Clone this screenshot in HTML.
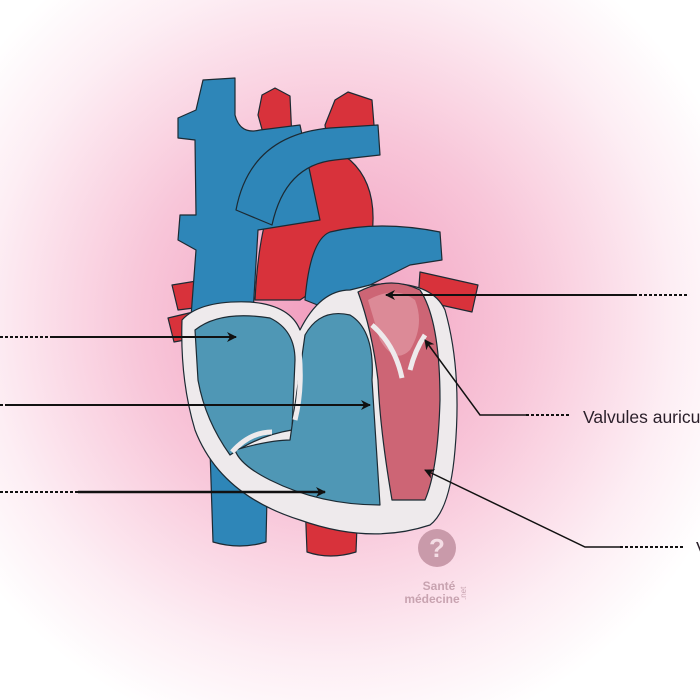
<!DOCTYPE html>
<html><head><meta charset="utf-8"><style>
html,body{margin:0;padding:0;width:700px;height:700px;overflow:hidden;background:#fff}
</style></head><body>
<svg width="700" height="700" viewBox="0 0 700 700" xmlns="http://www.w3.org/2000/svg">
<defs>
<radialGradient id="bg" cx="330" cy="320" r="430" gradientUnits="userSpaceOnUse">
<stop offset="0" stop-color="#f19cbd"/>
<stop offset="0.45" stop-color="#f8c6d9"/>
<stop offset="0.8" stop-color="#fdeef4"/>
<stop offset="1" stop-color="#ffffff"/>
</radialGradient>
<marker id="ah" markerWidth="10" markerHeight="10" refX="9" refY="5" orient="auto" markerUnits="userSpaceOnUse">
<path d="M0,0 L10,5 L0,10 L3,5 Z" fill="#111"/>
</marker>
</defs>
<rect width="700" height="700" fill="url(#bg)"/>
<g stroke="#1c2a33" stroke-width="1.2" stroke-linejoin="round">
<path d="M210,450 L268,450 L266,542 Q240,550 213,542 Z" fill="#2e86b8"/>
<path d="M305,500 L358,500 L356,552 Q330,560 307,552 Z" fill="#d8323b"/>
<path d="M172,285 L215,278 L218,305 L178,310 Z" fill="#d8323b"/>
<path d="M168,318 L210,308 L212,335 L174,342 Z" fill="#d8323b"/>
<path d="M420,272 L478,285 L472,312 L418,300 Z" fill="#d8323b"/>
<path d="M258,115 L262,95 L275,88 L290,96 L292,140 L265,140 Z" fill="#d8323b"/>
<path d="M325,125 L335,100 L348,92 L372,100 L376,150 L330,160 Z" fill="#d8323b"/>
<path d="M255,300 Q260,200 290,170 Q320,140 350,160 Q378,185 372,235 L345,270 L300,300 Z" fill="#d8323b"/>
<path d="M203,80 L235,78 L235,115 Q240,135 260,130 L300,125 L320,220 L258,230 L252,330 L190,330 L196,250 L178,240 L180,215 L196,215 L195,140 L178,138 L178,118 L196,110 Z" fill="#2e86b8"/>
<path d="M236,210 Q250,135 330,128 L378,125 L380,155 L335,160 Q285,165 272,225 Z" fill="#2e86b8"/>
<path d="M305,300 Q310,240 330,232 Q380,220 440,232 L442,260 L410,265 L360,290 L330,310 Z" fill="#2e86b8"/>
<path d="M182,320 Q200,300 250,302 Q290,305 300,330 Q320,290 350,290 L370,285 Q430,278 445,310 Q462,370 455,450 Q450,510 430,525 Q370,545 300,520 Q220,495 195,430 Q180,380 182,320 Z" fill="#eeeaec"/>
<path d="M195,330 Q220,310 270,318 Q295,330 295,360 L292,430 Q260,435 230,455 Q205,420 198,380 Z" fill="#4f97b5"/>
<path d="M305,335 Q320,308 350,315 Q375,330 372,380 L380,505 Q320,505 270,480 Q240,465 235,450 Q270,440 290,440 Z" fill="#4f97b5"/>
<path d="M358,292 Q390,275 420,290 Q440,320 440,400 Q438,470 425,500 L392,500 Q380,430 378,380 Q372,330 358,292 Z" fill="#cd6575"/>
<path d="M368,300 Q395,285 415,300 Q425,325 410,350 Q395,365 380,340 Z" fill="#dc8a97" stroke="none"/>
</g>
<path d="M296,330 Q305,380 295,420" stroke="#eeeaec" stroke-width="5" fill="none"/>
<path d="M232,452 Q250,432 272,432" stroke="#eeeaec" stroke-width="5" fill="none"/>
<path d="M372,325 Q395,345 402,378" stroke="#eeeaec" stroke-width="5" fill="none"/>
<path d="M425,335 Q415,350 410,370" stroke="#eeeaec" stroke-width="5" fill="none"/>
<g stroke="#111" stroke-width="2" fill="none">
<line x1="50" y1="337" x2="236" y2="337" marker-end="url(#ah)"/>
<line x1="0" y1="337" x2="50" y2="337" stroke-dasharray="3,2"/>
<line x1="8" y1="405" x2="370" y2="405" marker-end="url(#ah)"/>
<line x1="0" y1="405" x2="8" y2="405" stroke-dasharray="3,2"/>
<line x1="78" y1="492" x2="325" y2="492" stroke-width="2.5" marker-end="url(#ah)"/>
<line x1="0" y1="492" x2="78" y2="492" stroke-dasharray="3,2"/>
<line x1="634" y1="295" x2="386" y2="295" marker-end="url(#ah)"/>
<line x1="634" y1="295" x2="688" y2="295" stroke-dasharray="3,2"/>
<polyline points="526,415 480,415 425,340" stroke-width="1.5" marker-end="url(#ah)"/>
<line x1="526" y1="415" x2="570" y2="415" stroke-dasharray="3,2"/>
<polyline points="620,547 585,547 425,470" stroke-width="1.5" marker-end="url(#ah)"/>
<line x1="620" y1="547" x2="684" y2="547" stroke-dasharray="3,2"/>
</g>
<text x="583" y="423" font-family="Liberation Sans, sans-serif" font-size="17.5" fill="#2a1f2a">Valvules auriculo</text>
<text x="696" y="554" font-family="Liberation Sans, sans-serif" font-size="17.5" fill="#2a1f2a">V</text>
<circle cx="437" cy="548" r="19" fill="#c99aaa"/>
<text x="437" y="557" text-anchor="middle" font-family="Liberation Sans, sans-serif" font-weight="bold" font-size="26" fill="#f4dde5">?</text>
<text x="439" y="590" text-anchor="middle" font-family="Liberation Sans, sans-serif" font-weight="bold" font-size="12" fill="#c8a3b0">Santé</text>
<text x="432" y="603" text-anchor="middle" font-family="Liberation Sans, sans-serif" font-weight="bold" font-size="12" fill="#c8a3b0">médecine</text>
<text x="466" y="600" font-family="Liberation Sans, sans-serif" font-size="8" fill="#c8a3b0" transform="rotate(-90 466 600)">.net</text>
</svg>
</body></html>
